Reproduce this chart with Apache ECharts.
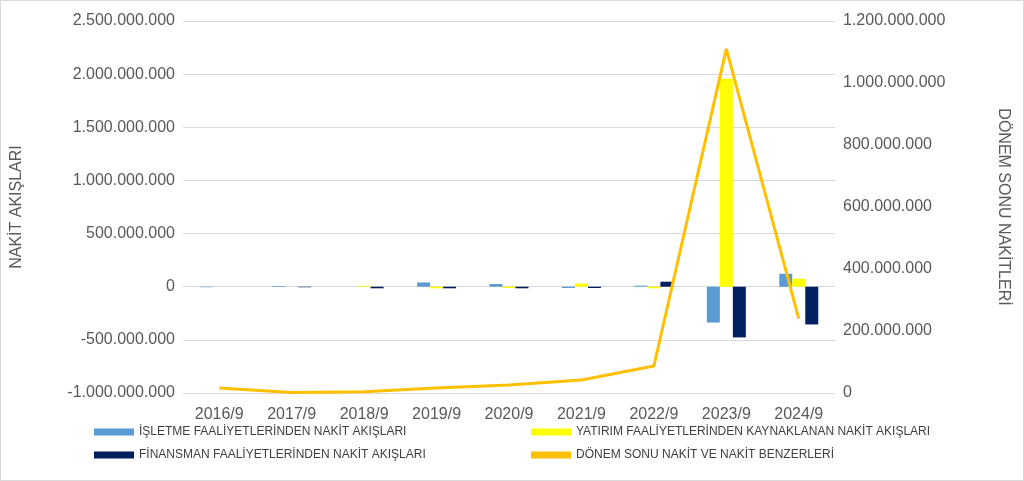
<!DOCTYPE html><html><head><meta charset="utf-8"><script src="https://cdn.jsdelivr.net/npm/echarts@6/dist/echarts.min.js"></script>
<style>html,body{margin:0;padding:0;}#c{width:1022px;height:479px;border:1px solid #d9d9d9;}</style></head><body><div id="c"></div><script>
const categories=['2016/9','2017/9','2018/9','2019/9','2020/9','2021/9','2022/9','2023/9','2024/9'];
const isletme=[-5e6,7e6,0,40e6,25e6,-12e6,10e6,-337e6,122e6];
const yatirim=[0,0,8e6,-15e6,-12e6,30e6,-15e6,1957e6,75e6];
const finansman=[0,-5e6,-15e6,-15e6,-15e6,-12e6,47e6,-477e6,-355e6];
const donemSonu=[16e6,2e6,4e6,16e6,26e6,42e6,87e6,1110e6,240e6];
const fmt=v=>{const s=Math.abs(v).toString().replace(/\B(?=(\d{3})+(?!\d))/g,'.');return (v<0?'-':'')+s;};
const ch=echarts.init(document.getElementById('c'));
const lab={color:'#595959',fontSize:16,fontFamily:'Liberation Sans'};
const lgText={color:'#404040',fontSize:12,fontFamily:'Liberation Sans'};
const N=['İŞLETME FAALİYETLERİNDEN NAKİT AKIŞLARI','YATIRIM FAALİYETLERİNDEN KAYNAKLANAN NAKİT AKIŞLARI','FİNANSMAN FAALİYETLERİNDEN NAKİT AKIŞLARI','DÖNEM SONU NAKİT VE NAKİT BENZERLERİ'];
ch.setOption({
animation:false,
legend:[{orient:'vertical',top:420,left:88,itemGap:11,itemWidth:40,itemHeight:7,textStyle:lgText,data:[{name:N[0],icon:'rect'},{name:N[2],icon:'rect'}]},
{orient:'vertical',top:420,left:525,itemGap:11,itemWidth:40,itemHeight:7,textStyle:lgText,data:[{name:N[1],icon:'rect'},{name:N[3],icon:'rect',itemStyle:{color:'#FFC000'}}]}],
grid:{left:180,right:188,top:20,bottom:87},
xAxis:{type:'category',data:categories,axisTick:{show:false},axisLine:{onZero:true,onZeroAxisIndex:0,lineStyle:{color:'#d9d9d9'}},axisLabel:{...lab,margin:14}},
yAxis:[{type:'value',min:-1e9,max:2.5e9,interval:5e8,axisLabel:{...lab,formatter:fmt},splitLine:{lineStyle:{color:'#d9d9d9'}},name:'NAKİT AKIŞLARI',nameLocation:'middle',nameGap:158,nameTextStyle:{...lab,fontSize:16}},
{type:'value',min:0,max:1.2e9,interval:2e8,axisLabel:{...lab,formatter:fmt},splitLine:{show:false},name:'DÖNEM SONU NAKİTLERİ',nameLocation:'middle',nameGap:160,nameRotate:-90,nameTextStyle:{...lab,fontSize:16}}],
series:[
{name:N[0],type:'bar',data:isletme,itemStyle:{color:'#5B9BD5'},barWidth:13,barGap:'0%'},
{name:N[1],type:'bar',data:yatirim,itemStyle:{color:'#FFFF00'},barWidth:13},
{name:N[2],type:'bar',data:finansman,itemStyle:{color:'#002060'},barWidth:13},
{name:N[3],type:'line',yAxisIndex:1,data:donemSonu,symbol:'none',lineStyle:{color:'#FFC000',width:3},itemStyle:{color:'#FFC000'},z:5}
]});
</script></body></html>
